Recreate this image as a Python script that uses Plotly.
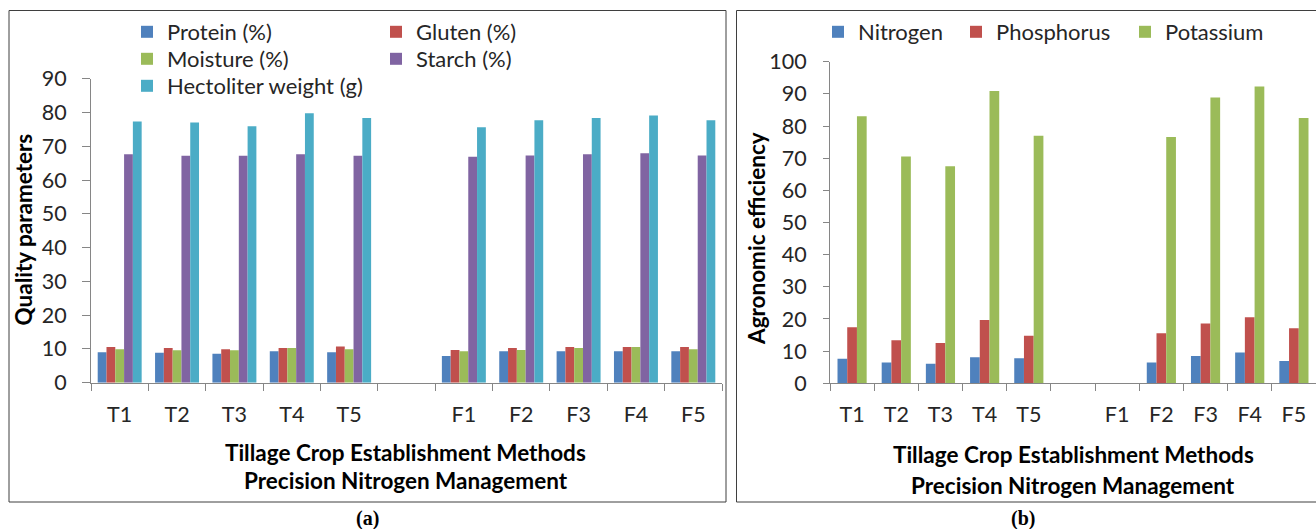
import plotly.graph_objects as go

W, H = 1316, 529

# ---------------- data ----------------
categories = ["T1", "T2", "T3", "T4", "T5", " ", "F1", "F2", "F3", "F4", "F5"]

protein = [9.0, 8.9, 8.6, 9.3, 9.0, None, 7.9, 9.3, 9.3, 9.3, 9.3]
gluten = [10.6, 10.3, 9.9, 10.3, 10.7, None, 9.7, 10.3, 10.6, 10.6, 10.6]
moisture = [9.9, 9.6, 9.6, 10.3, 9.9, None, 9.3, 9.7, 10.3, 10.6, 9.9]
starch = [67.6, 67.2, 67.2, 67.6, 67.2, None, 66.9, 67.3, 67.6, 67.9, 67.3]
hectoliter = [77.3, 77.0, 75.9, 79.8, 78.4, None, 75.6, 77.7, 78.4, 79.1, 77.7]

nitrogen = [7.6, 6.5, 6.1, 8.1, 7.8, None, 0, 6.5, 8.5, 9.6, 6.9]
phosphorus = [17.4, 13.4, 12.5, 19.7, 14.8, None, 0, 15.6, 18.6, 20.5, 17.1]
potassium = [83.0, 70.5, 67.5, 90.9, 77.0, None, 0, 76.6, 88.9, 92.3, 82.5]

# (name, values, colour, legend row)
left_series = [
    ("Protein (%)", protein, "#4F81BD", "legend"),
    ("Gluten (%)", gluten, "#C0504D", "legend"),
    ("Moisture (%)", moisture, "#9BBB59", "legend3"),
    ("Starch (%)", starch, "#8064A2", "legend3"),
    ("Hectoliter weight (g)", hectoliter, "#4BACC6", "legend4"),
]
# (name, values, colour, legend entry width)
right_series = [
    ("Nitrogen", nitrogen, "#4F81BD", 93),
    ("Phosphorus", phosphorus, "#C0504D", 124),
    ("Potassium", potassium, "#9BBB59", None),
]

FONT = "Lato"
TXT = "#262626"
AX = "#868686"
LEG_SIZE = 22
TICK_SIZE = 21.5
TITLE_SIZE = 22.5


def px(x):
    return x / W


def py(y):
    return 1 - y / H


fig = go.Figure()

# left panel bars
lw = 0.1533
for i, (name, vals, col, leg) in enumerate(left_series):
    fig.add_trace(go.Bar(
        x=categories, y=vals, name=name, marker=dict(color=col, line=dict(width=0)),
        width=lw, offset=-2.5 * lw + i * lw, xaxis="x", yaxis="y", legend=leg,
    ))

# right panel bars
rw = 0.22
for i, (name, vals, col, lwid) in enumerate(right_series):
    fig.add_trace(go.Bar(
        x=categories, y=vals, name=name, marker=dict(color=col, line=dict(width=0)),
        width=rw, offset=-1.5 * rw + i * rw, xaxis="x2", yaxis="y2", legend="legend2",
        legendwidth=lwid,
    ))

axis_common = dict(
    showline=True, linecolor=AX, linewidth=1, showgrid=False, zeroline=False,
    ticks="outside", tickcolor=AX, tickwidth=1, automargin=False,
    tickfont=dict(family=FONT, size=TICK_SIZE, color=TXT),
)

leg_common = dict(xanchor="left", yanchor="middle", orientation="h",
                  font=dict(family=FONT, size=LEG_SIZE, color=TXT),
                  bgcolor="rgba(0,0,0,0)", borderwidth=0)

fig.update_layout(
    width=W, height=H,
    margin=dict(l=0, r=0, t=0, b=0, autoexpand=False),
    paper_bgcolor="white", plot_bgcolor="white",
    barmode="overlay",
    font=dict(family=FONT, color=TXT),
    xaxis=dict(domain=[px(91), px(722)], anchor="y", type="category",
               categoryorder="array", categoryarray=categories,
               tickson="boundaries", ticklen=7, ticklabelstandoff=12, **axis_common),
    yaxis=dict(domain=[py(382.7), py(78.7)], anchor="x", range=[0, 90],
               dtick=10, ticklen=8, ticklabelstandoff=11, **axis_common),
    xaxis2=dict(domain=[px(830), px(1316)], anchor="y2", type="category",
                categoryorder="array", categoryarray=categories,
                tickson="boundaries", ticklen=7, ticklabelstandoff=12, **axis_common),
    yaxis2=dict(domain=[py(383.3), py(61.7)], anchor="x2", range=[0, 100],
                dtick=10, ticklen=6, ticklabelstandoff=12, **axis_common),
    legend=dict(x=px(127), y=py(32), entrywidth=204, **leg_common),
    legend3=dict(x=px(127), y=py(59), entrywidth=204, **leg_common),
    legend4=dict(x=px(127), y=py(86), entrywidth=204, **leg_common),
    legend2=dict(x=px(818), y=py(32), **leg_common),
    showlegend=True,
)

# panel borders
fig.add_shape(type="rect", xref="paper", yref="paper",
              x0=px(9), x1=px(726), y0=py(502), y1=py(10.5),
              line=dict(color="#3f3f3f", width=1), fillcolor="rgba(0,0,0,0)", layer="below")
fig.add_shape(type="rect", xref="paper", yref="paper",
              x0=px(736.5), x1=px(1340), y0=py(502), y1=py(10.5),
              line=dict(color="#3f3f3f", width=1), fillcolor="rgba(0,0,0,0)", layer="below")

title_font = dict(family=FONT, size=TITLE_SIZE, color="black", weight="bold")
ann = [
    dict(text="Quality parameters", x=px(23), y=py(229.5), textangle=-90),
    dict(text="Tillage Crop Establishment Methods", x=px(405), y=py(452)),
    dict(text="Precision Nitrogen Management", x=px(406), y=py(480)),
    dict(text="Agronomic efficiency", x=px(756), y=py(239), textangle=-90),
    dict(text="Tillage Crop Establishment Methods", x=px(1073), y=py(454)),
    dict(text="Precision Nitrogen Management", x=px(1073), y=py(485)),
]
for a in ann:
    fig.add_annotation(xref="paper", yref="paper", xanchor="center", yanchor="middle",
                       showarrow=False, font=title_font, **a)

cap_font = dict(family="Liberation Serif", size=20, color="black", weight="bold")
fig.add_annotation(text="(a)", x=px(367), y=py(518), xref="paper", yref="paper",
                   showarrow=False, font=cap_font, xanchor="center", yanchor="middle")
fig.add_annotation(text="(b)", x=px(1023), y=py(518), xref="paper", yref="paper",
                   showarrow=False, font=cap_font, xanchor="center", yanchor="middle")

fig.write_html("out.html", config={"displayModeBar": False},
               post_script="document.body.style.margin='0';")
